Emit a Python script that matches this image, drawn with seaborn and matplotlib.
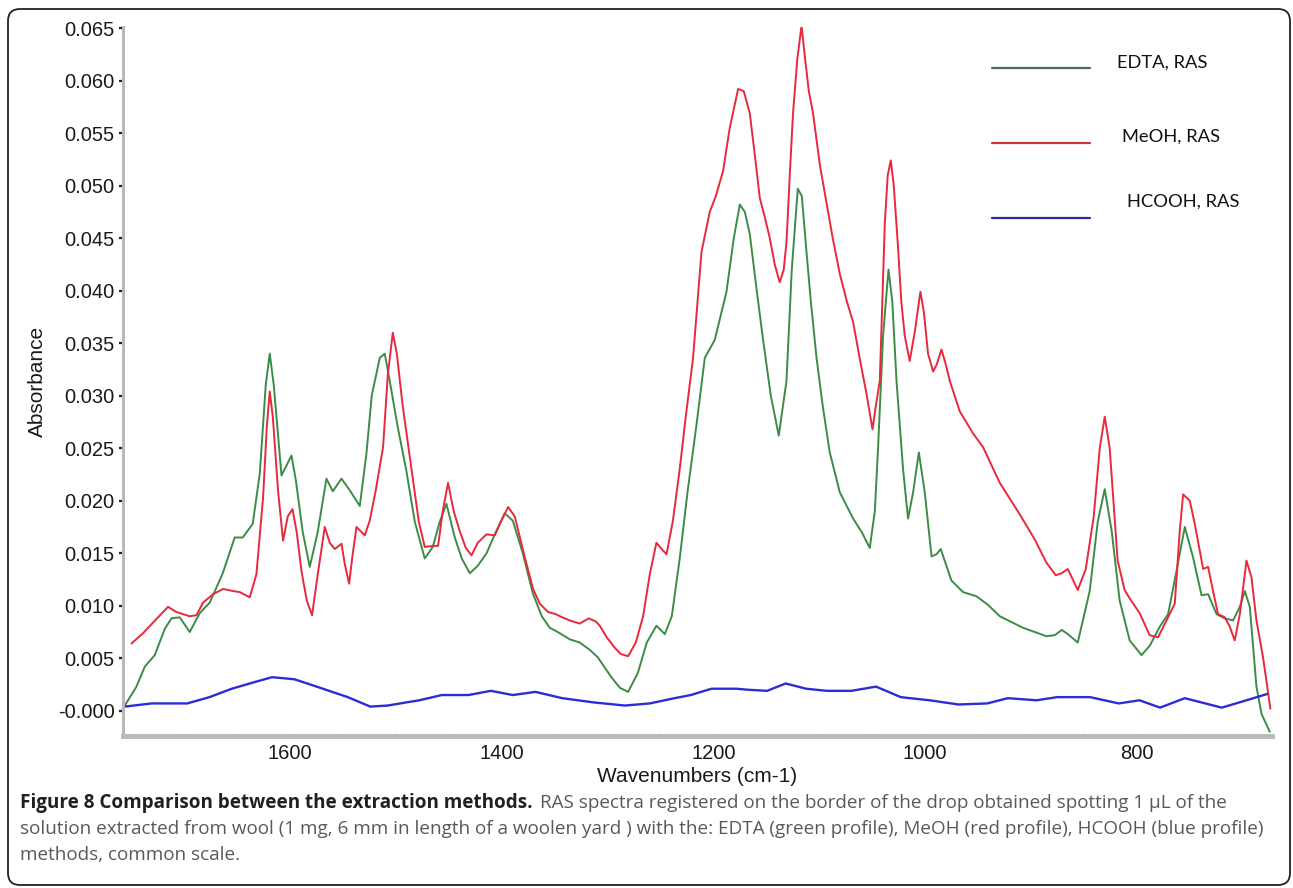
import numpy as np
import pandas as pd
import matplotlib
matplotlib.use("Agg")
import matplotlib.pyplot as plt
import seaborn as sns
from matplotlib.patches import FancyBboxPatch
from matplotlib.lines import Line2D
from matplotlib.transforms import IdentityTransform

# ---- RAS spectra (wavenumber in cm-1, absorbance) ----
edta_wn = [1756.3, 1745.3, 1737.4, 1728.0, 1718.5, 1712.2, 1704.4, 1694.9, 1685.5, 1676.0,
           1663.7, 1652.4, 1644.8, 1635.4, 1628.7, 1623.1, 1619.3, 1615.5, 1608.2, 1604.2,
           1598.8, 1594.7, 1588.1, 1581.5, 1574.0, 1565.7, 1559.7, 1551.5, 1543.7, 1534.2,
           1527.9, 1522.9, 1515.3, 1510.6, 1505.9, 1498.3, 1490.1, 1482.2, 1472.8, 1465.2,
           1458.6, 1452.3, 1444.4, 1437.8, 1430.2, 1422.7, 1414.4, 1406.6, 1397.2, 1389.6,
           1380.1, 1370.7, 1362.2, 1354.6, 1347.1, 1335.7, 1326.3, 1316.8, 1309.3, 1296.4,
           1288.5, 1280.6, 1271.4, 1262.9, 1253.8, 1245.9, 1239.3, 1231.8, 1224.2, 1216.0,
           1208.1, 1198.7, 1187.6, 1180.7, 1175.0, 1170.3, 1165.6, 1159.0, 1153.0, 1145.7,
           1138.2, 1130.9, 1125.9, 1120.2, 1116.4, 1112.0, 1107.9, 1102.5, 1096.6, 1090.0,
           1080.5, 1067.9, 1059.7, 1052.2, 1047.4, 1044.3, 1039.6, 1034.5, 1030.9, 1026.9,
           1020.7, 1016.0, 1011.2, 1005.8, 1000.2, 993.8, 989.1, 985.1, 975.0, 964.0,
           951.3, 940.6, 929.3, 907.3, 885.2, 877.3, 870.7, 865.0, 855.6, 844.3,
           836.7, 830.1, 823.5, 816.0, 806.5, 795.3, 787.5, 778.1, 770.2, 762.3,
           754.4, 746.6, 738.6, 732.4, 724.4, 716.6, 708.8, 702.4, 697.7, 693.0,
           689.9, 686.7, 681.9, 674.1]
edta_abs = [0.0005, 0.0023, 0.0042, 0.0053, 0.0078, 0.0088, 0.0089, 0.0075, 0.0093, 0.0103,
            0.0131, 0.0165, 0.0165, 0.0178, 0.0226, 0.0310, 0.0340, 0.0310, 0.0224, 0.0232,
            0.0243, 0.0220, 0.0170, 0.0137, 0.0170, 0.0221, 0.0209, 0.0221, 0.0210, 0.0195,
            0.0245, 0.0300, 0.0336, 0.0340, 0.0314, 0.0270, 0.0228, 0.0180, 0.0145, 0.0156,
            0.0180, 0.0197, 0.0165, 0.0145, 0.0131, 0.0138, 0.0150, 0.0168, 0.0188, 0.0181,
            0.0150, 0.0112, 0.0090, 0.0079, 0.0075, 0.0068, 0.0065, 0.0058, 0.0051, 0.0032,
            0.0022, 0.0018, 0.0036, 0.0065, 0.0081, 0.0073, 0.0090, 0.0145, 0.0210, 0.0272,
            0.0336, 0.0353, 0.0399, 0.0450, 0.0482, 0.0475, 0.0454, 0.0400, 0.0353, 0.0300,
            0.0262, 0.0314, 0.0420, 0.0497, 0.0490, 0.0437, 0.0390, 0.0336, 0.0290, 0.0246,
            0.0208, 0.0183, 0.0170, 0.0155, 0.0190, 0.0251, 0.0357, 0.0420, 0.0390, 0.0314,
            0.0230, 0.0183, 0.0208, 0.0246, 0.0208, 0.0147, 0.0149, 0.0154, 0.0124, 0.0113,
            0.0109, 0.0101, 0.0090, 0.0079, 0.0071, 0.0072, 0.0077, 0.0073, 0.0065, 0.0114,
            0.0180, 0.0211, 0.0171, 0.0105, 0.0067, 0.0053, 0.0062, 0.0080, 0.0092, 0.0133,
            0.0175, 0.0146, 0.0110, 0.0111, 0.0092, 0.0088, 0.0086, 0.0099, 0.0114, 0.0099,
            0.0061, 0.0023, -0.0003, -0.0020]

meoh_wn = [1750.0, 1739.0, 1729.6, 1715.4, 1707.5, 1694.9, 1688.6, 1682.3, 1672.9, 1663.4,
           1654.0, 1647.6, 1638.2, 1631.9, 1625.6, 1622.1, 1619.3, 1616.4, 1611.4, 1606.7,
           1602.3, 1597.8, 1593.8, 1589.3, 1584.3, 1579.3, 1573.9, 1567.3, 1562.6, 1557.8,
           1551.5, 1548.4, 1544.3, 1540.8, 1537.3, 1529.5, 1524.8, 1519.1, 1512.2, 1507.7,
           1503.0, 1499.2, 1493.6, 1483.8, 1478.4, 1472.8, 1464.9, 1460.2, 1455.8, 1450.8,
           1445.4, 1439.7, 1434.0, 1428.6, 1422.7, 1414.4, 1406.6, 1400.9, 1394.0, 1387.7,
           1379.2, 1370.4, 1364.1, 1356.2, 1349.0, 1342.8, 1335.7, 1326.3, 1317.8, 1311.1,
           1307.4, 1300.8, 1293.2, 1287.5, 1280.6, 1273.3, 1266.4, 1260.1, 1253.8, 1249.7,
           1244.3, 1238.4, 1231.8, 1226.1, 1219.2, 1211.2, 1203.4, 1197.7, 1190.8, 1184.5,
           1176.6, 1171.3, 1165.6, 1160.9, 1156.1, 1151.4, 1146.7, 1142.0, 1137.3, 1133.5,
           1130.9, 1127.8, 1124.7, 1120.7, 1116.7, 1113.2, 1109.8, 1105.8, 1099.4, 1093.1,
           1087.2, 1080.5, 1073.9, 1067.9, 1061.6, 1055.3, 1049.6, 1046.5, 1042.7, 1038.0,
           1035.2, 1032.3, 1029.5, 1025.5, 1022.4, 1019.1, 1014.4, 1009.6, 1004.3, 1001.1,
           997.1, 992.3, 988.8, 984.4, 980.4, 976.5, 967.1, 954.5, 945.1, 929.3,
           910.4, 896.2, 885.2, 876.4, 870.7, 865.0, 860.3, 855.6, 848.0, 840.5,
           834.8, 830.1, 825.4, 817.9, 811.3, 806.5, 797.1, 787.7, 779.7, 771.7,
           763.9, 759.2, 756.0, 749.7, 745.0, 737.1, 732.4, 727.7, 723.0, 716.6,
           711.9, 707.2, 702.4, 696.1, 691.4, 686.7, 680.5, 673.5]
meoh_abs = [0.0064, 0.0074, 0.0084, 0.0099, 0.0094, 0.0090, 0.0091, 0.0103, 0.0111, 0.0116,
            0.0114, 0.0113, 0.0108, 0.0130, 0.0203, 0.0270, 0.0304, 0.0280, 0.0209, 0.0162,
            0.0185, 0.0192, 0.0170, 0.0133, 0.0105, 0.0091, 0.0130, 0.0175, 0.0160, 0.0154,
            0.0159, 0.0140, 0.0121, 0.0150, 0.0175, 0.0167, 0.0181, 0.0210, 0.0251, 0.0320,
            0.0360, 0.0340, 0.0290, 0.0219, 0.0180, 0.0156, 0.0157, 0.0157, 0.0190, 0.0217,
            0.0190, 0.0171, 0.0155, 0.0148, 0.0160, 0.0168, 0.0167, 0.0180, 0.0194, 0.0185,
            0.0150, 0.0116, 0.0102, 0.0094, 0.0092, 0.0089, 0.0086, 0.0083, 0.0088, 0.0085,
            0.0081, 0.0070, 0.0060, 0.0054, 0.0052, 0.0065, 0.0090, 0.0130, 0.0160, 0.0155,
            0.0149, 0.0180, 0.0230, 0.0280, 0.0336, 0.0437, 0.0475, 0.0490, 0.0514, 0.0555,
            0.0592, 0.0590, 0.0569, 0.0530, 0.0488, 0.0470, 0.0450, 0.0425, 0.0408, 0.0420,
            0.0446, 0.0510, 0.0569, 0.0620, 0.0652, 0.0620, 0.0590, 0.0569, 0.0520, 0.0484,
            0.0450, 0.0416, 0.0390, 0.0370, 0.0335, 0.0302, 0.0268, 0.0290, 0.0314, 0.0463,
            0.0510, 0.0524, 0.0500, 0.0442, 0.0390, 0.0357, 0.0333, 0.0361, 0.0399, 0.0380,
            0.0340, 0.0323, 0.0330, 0.0344, 0.0330, 0.0314, 0.0285, 0.0264, 0.0251, 0.0217,
            0.0187, 0.0163, 0.0141, 0.0129, 0.0131, 0.0135, 0.0125, 0.0115, 0.0135, 0.0185,
            0.0250, 0.0280, 0.0250, 0.0143, 0.0115, 0.0107, 0.0093, 0.0072, 0.0070, 0.0086,
            0.0102, 0.0171, 0.0206, 0.0200, 0.0178, 0.0135, 0.0137, 0.0114, 0.0092, 0.0089,
            0.0080, 0.0067, 0.0092, 0.0143, 0.0127, 0.0086, 0.0051, 0.0002]

hcooh_wn = [1756.3, 1731.0, 1697.3, 1676.2, 1655.2, 1638.2, 1617.1, 1596.0, 1574.9, 1545.6,
            1524.3, 1507.8, 1490.1, 1477.9, 1456.7, 1431.4, 1410.4, 1389.6, 1368.1, 1342.8,
            1313.3, 1283.7, 1260.1, 1236.7, 1221.3, 1201.8, 1178.4, 1166.7, 1149.2, 1131.7,
            1112.3, 1092.8, 1069.6, 1046.2, 1022.9, 995.6, 968.4, 941.2, 921.7, 894.5,
            875.0, 843.9, 816.8, 797.2, 777.8, 754.4, 719.5, 696.1, 676.6]
hcooh_abs = [0.0004, 0.0007, 0.0007, 0.0013, 0.0021, 0.0026, 0.0032, 0.0030, 0.0023, 0.0013,
             0.0004, 0.0005, 0.0008, 0.0010, 0.0015, 0.0015, 0.0019, 0.0015, 0.0018, 0.0012,
             0.0008, 0.0005, 0.0007, 0.0012, 0.0015, 0.0021, 0.0021, 0.0020, 0.0019, 0.0026,
             0.0021, 0.0019, 0.0019, 0.0023, 0.0013, 0.0010, 0.0006, 0.0007, 0.0012, 0.0010,
             0.0013, 0.0013, 0.0007, 0.0010, 0.0003, 0.0012, 0.0003, 0.0010, 0.0016]

methods = ["EDTA, RAS", "MeOH, RAS", "HCOOH, RAS"]
line_colors = ["#3c8c46", "#e8283c", "#2c2cd4"]
line_widths = [1.4, 1.4, 1.7]
key_colors = ["#4f6a52", "#c43a3a", "#2a2aa8"]

ytick_values = [0.000, 0.005, 0.010, 0.015, 0.020, 0.025, 0.030, 0.035,
                0.040, 0.045, 0.050, 0.055, 0.060, 0.065]
ytick_labels = ["-0.000", "0.005", "0.010", "0.015", "0.020", "0.025", "0.030", "0.035",
                "0.040", "0.045", "0.050", "0.055", "0.060", "0.065"]
xtick_major = [1600, 1400, 1200, 1000, 800]
xtick_minor = list(range(1750, 650, -50))

caption_bold = "Figure 8 Comparison between the extraction methods."
caption_rest = [
    "RAS spectra registered on the border of the drop obtained spotting 1 \u03bcL of the",
    "solution extracted from wool (1 mg, 6 mm in length of a woolen yard ) with the: EDTA (green profile), MeOH (red profile), HCOOH (blue profile)",
    "methods, common scale.",
]

frames = []
for name, wn, ab in zip(methods, [edta_wn, meoh_wn, hcooh_wn], [edta_abs, meoh_abs, hcooh_abs]):
    frames.append(pd.DataFrame({"Wavenumber": wn, "Absorbance": ab, "Method": name}))
df = pd.concat(frames, ignore_index=True)

sns.set_style("white")
plt.rcParams["font.family"] = ["Liberation Sans", "DejaVu Sans"]

W, H = 1293, 888
fig = plt.figure(figsize=(W / 100, H / 100), dpi=100)
ax = fig.add_axes([123 / W, 1 - 736 / H, (1272 - 123) / W, (736 - 27) / H])

sns.lineplot(data=df, x="Wavenumber", y="Absorbance", hue="Method",
             palette=dict(zip(methods, line_colors)), estimator=None,
             linewidth=1.4, legend=False, ax=ax)
for line, lw in zip(ax.get_lines(), line_widths):
    line.set_linewidth(lw)

ax.set_xlim(1758, 672)
ax.set_ylim(-0.0024, 0.0651)

for side in ["top", "right"]:
    ax.spines[side].set_visible(False)
ax.spines["left"].set_color("#b9b9b9")
ax.spines["left"].set_linewidth(2.2)
ax.spines["bottom"].set_color("#b9b9b9")
ax.spines["bottom"].set_linewidth(3.5)

ax.set_yticks(ytick_values)
ax.set_yticklabels(ytick_labels)
ax.set_xticks(xtick_major)
ax.set_xticklabels([str(v) for v in xtick_major])
ax.set_xticks(xtick_minor, minor=True)
ax.tick_params(axis="y", direction="out", length=3, width=1.6, color="#222222",
               pad=3, labelsize=14.5, labelcolor="#1a1a1a", left=True)
ax.tick_params(axis="x", which="both", direction="inout", length=3, width=1.6,
               color="#222222", pad=4, labelsize=14.5, labelcolor="#1a1a1a", bottom=True)
ax.grid(False)

ax.set_xlabel("Wavenumbers (cm-1)", fontsize=15, color="#1a1a1a", labelpad=3)
ax.set_ylabel("Absorbance", fontsize=15, color="#1a1a1a", labelpad=8)

# key drawn as plain line samples with labels to their right
key_rows = [68, 143, 218]
key_text_x = [1117, 1122, 1127]
key_text_dy = [-5, -6, -16]
for yk, tx, dy, label, col in zip(key_rows, key_text_x, key_text_dy, methods, key_colors):
    fig.add_artist(Line2D([992 / W, 1090 / W], [1 - yk / H] * 2,
                          transform=fig.transFigure, color=col, linewidth=1.6))
    fig.text(tx / W, 1 - (yk + dy) / H, label, fontsize=13.2, family=["Lato", "DejaVu Sans"],
             color="#111111", va="center", ha="left")

# caption below the plot
cap_font = ["Open Sans", "DejaVu Sans"]
cap_size = 13.6
t_bold = fig.text(20 / W, 1 - 803 / H, caption_bold, fontsize=cap_size, family=cap_font,
                  weight="bold", color="#231f20", va="center", ha="left")
fig.canvas.draw()
bb = t_bold.get_window_extent(renderer=fig.canvas.get_renderer())
fig.text((bb.x1 + 7) / W, 1 - 803 / H, caption_rest[0], fontsize=cap_size, family=cap_font,
         color="#58595b", va="center", ha="left")
fig.text(20 / W, 1 - 829 / H, caption_rest[1], fontsize=cap_size, family=cap_font,
         color="#58595b", va="center", ha="left")
fig.text(20 / W, 1 - 855 / H, caption_rest[2], fontsize=cap_size, family=cap_font,
         color="#58595b", va="center", ha="left")

# rounded frame around the whole figure
frame = FancyBboxPatch((8, 3), 1282, 876, boxstyle="round,pad=0,rounding_size=12",
                       transform=IdentityTransform(), fill=False, edgecolor="#222222",
                       linewidth=1.3)
fig.add_artist(frame)

fig.savefig("out.png", dpi=100)
